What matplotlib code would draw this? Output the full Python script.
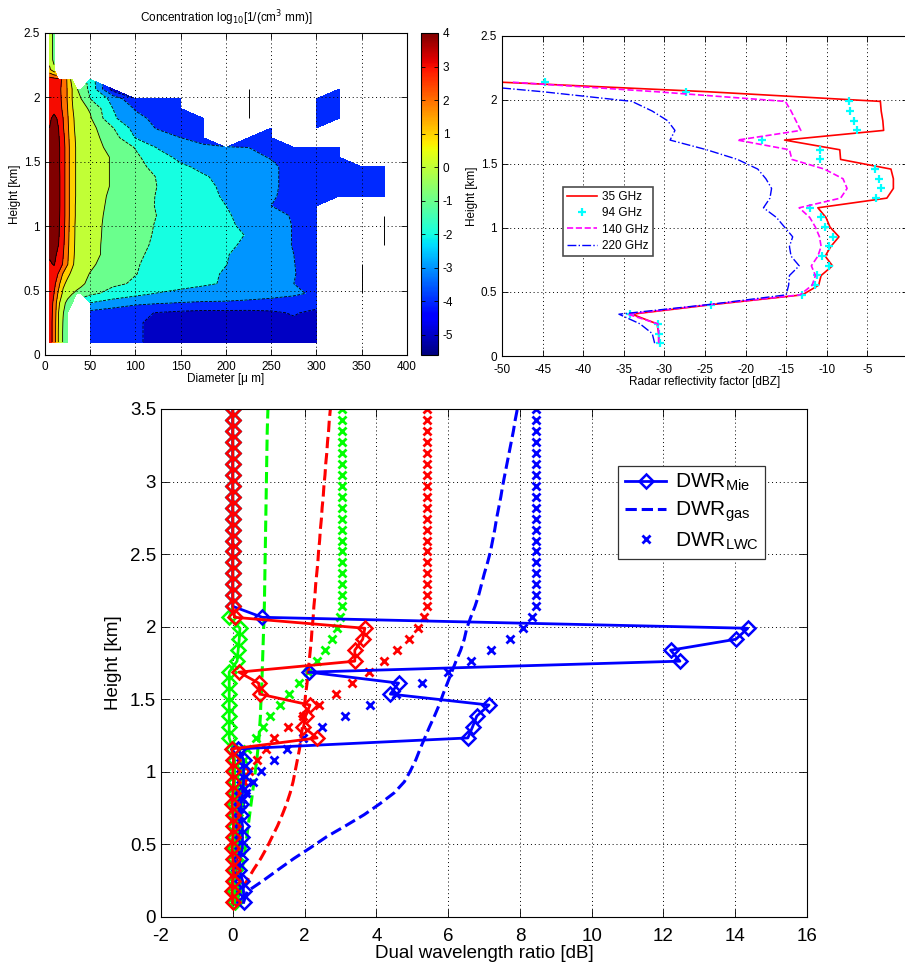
import matplotlib
matplotlib.use("Agg")
import matplotlib.pyplot as plt
import numpy as np
from matplotlib.colors import Normalize
from matplotlib.cm import ScalarMappable
from matplotlib.ticker import FormatStrFormatter

plt.rcParams["font.family"] = ["Liberation Sans", "DejaVu Sans"]
plt.rcParams["axes.unicode_minus"] = False

n = np.nan
# common height grid [km]
heights = np.linspace(0.1, 3.5, 46)

# ---- concentration log10[1/(cm^3 mm)], rows = heights[0:33], columns = diam
diam = [5, 10, 15, 20, 25, 30, 35, 40, 50, 75, 100, 125, 150, 175, 200, 225, 250, 275, 300, 325, 350, 375]
conc = [
    [3.5, 2.6, 0.9, -0.1, -0.7, n, n, n, -3.5, -3.7, -3.9, -4.2, -4.4, -4.5, -4.5, -4.5, -4.5, -4.5, -4.5, n, n, n],
    [3.5, 2.6, 0.9, -0.1, -0.7, n, n, n, -3.5, -3.7, -3.9, -4.2, -4.4, -4.5, -4.5, -4.5, -4.5, -4.5, -4.5, n, n, n],
    [3.5, 2.6, 0.95, -0.05, -0.7, n, n, n, -3.45, -3.7, -3.9, -4.2, -4.4, -4.5, -4.5, -4.5, -4.4, -4.2, -4.4, n, n, n],
    [3.5, 2.7, 1.0, 0.05, -0.6, n, n, n, -3.3, -3.5, -3.8, -4.05, -4.2, -4.3, -4.3, -4.3, -4.2, -3.9, -4.3, n, n, n],
    [3.5, 2.8, 1.2, 0.3, -0.3, -0.7, n, n, -2.05, -2.5, -2.8, -2.95, -3.05, -3.1, -3.1, -3.15, -3.2, -3.3, -3.5, n, n, n],
    [3.5, 3.0, 1.8, 0.8, 0.4, 0.05, -0.2, -0.4, -0.8, -1.3, -1.7, -2.05, -2.3, -2.5, -2.6, -2.7, -2.8, -2.9, -3.1, n, n, n],
    [3.6, 3.3, 2.3, 1.2, 0.75, 0.55, 0.4, 0.2, -0.3, -0.85, -1.1, -1.35, -1.6, -1.85, -2.1, -2.4, -2.7, -3.0, -3.3, n, n, n],
    [3.8, 3.6, 2.9, 1.9, 1.2, 0.8, 0.55, 0.35, -0.05, -0.6, -0.98, -1.25, -1.5, -1.75, -2.1, -2.45, -2.75, -2.97, -3.3, n, n, n],
    [3.9, 4.05, 3.65, 2.9, 2.05, 1.15, 0.7, 0.5, 0.2, -0.6, -0.95, -1.2, -1.45, -1.7, -1.98, -2.4, -2.75, -2.98, -3.4, n, n, n],
    [4.1, 4.2, 3.8, 3.05, 2.15, 1.2, 0.78, 0.6, 0.33, -0.4, -0.9, -1.15, -1.4, -1.65, -1.95, -2.3, -2.75, -3.0, -3.4, n, n, n],
    [4.4, 4.4, 4.0, 3.2, 2.25, 1.25, 0.8, 0.6, 0.33, -0.38, -0.85, -1.1, -1.35, -1.6, -1.85, -2.15, -2.6, -3.05, -3.4, n, n, n],
    [4.45, 4.5, 4.1, 3.3, 2.3, 1.3, 0.8, 0.6, 0.35, -0.35, -0.82, -1.07, -1.3, -1.55, -1.8, -2.05, -2.55, -3.05, -3.4, n, n, n],
    [4.5, 4.55, 4.15, 3.35, 2.35, 1.3, 0.82, 0.62, 0.38, -0.35, -0.8, -1.05, -1.3, -1.55, -1.85, -2.2, -2.55, -3.05, -3.4, n, n, n],
    [4.5, 4.6, 4.2, 3.4, 2.4, 1.35, 0.85, 0.65, 0.4, -0.3, -0.75, -1.02, -1.3, -1.6, -1.9, -2.3, -2.65, -3.1, -3.5, n, n, n],
    [4.5, 4.6, 4.25, 3.4, 2.4, 1.35, 0.85, 0.68, 0.45, -0.25, -0.75, -1.05, -1.35, -1.7, -2.0, -2.45, -3.0, -3.3, -3.5, n, n, n],
    [4.5, 4.6, 4.25, 3.4, 2.4, 1.35, 0.9, 0.72, 0.5, -0.2, -0.7, -1.05, -1.4, -1.75, -2.1, -2.5, -2.9, -3.3, -3.5, -3.7, -3.8, -3.9],
    [4.5, 4.6, 4.25, 3.4, 2.4, 1.35, 0.9, 0.75, 0.55, -0.1, -0.65, -1.02, -1.4, -1.75, -2.2, -2.55, -2.85, -3.3, -3.6, -3.7, -3.8, -3.9],
    [4.5, 4.6, 4.25, 3.4, 2.4, 1.35, 0.9, 0.75, 0.55, -0.1, -0.65, -1.05, -1.5, -1.9, -2.3, -2.55, -2.85, -3.3, -3.6, -3.7, -3.8, -3.9],
    [4.5, 4.6, 4.2, 3.4, 2.4, 1.35, 0.9, 0.75, 0.55, -0.1, -0.75, -1.25, -1.8, -2.25, -2.45, -2.6, -2.85, -3.3, -3.6, -3.8, -3.8, -3.9],
    [4.4, 4.5, 4.2, 3.4, 2.4, 1.35, 0.9, 0.75, 0.55, -0.1, -0.85, -1.5, -2.3, -2.4, -2.6, -2.8, -3.05, -3.5, -3.7, -3.8, n, n],
    [4.3, 4.5, 4.2, 3.4, 2.4, 1.35, 0.9, 0.7, 0.5, -0.35, -1.05, -2.1, -2.5, -2.8, -2.95, -3.0, -3.2, -3.6, -3.7, -3.8, n, n],
    [4.2, 4.4, 4.1, 3.3, 2.3, 1.3, 0.85, 0.65, 0.4, -0.55, -2.05, -2.5, -3.0, -3.4, n, -3.7, -3.8, n, n, n, n, n],
    [4.0, 4.3, 4.0, 3.1, 2.2, 1.2, 0.8, 0.55, 0.35, -0.95, -2.4, -3.1, -3.5, -3.8, n, n, -3.8, n, -3.7, n, n, n],
    [3.9, 4.15, 3.9, 3.0, 2.1, 1.2, 0.7, 0.45, 0.1, -1.85, -2.7, -3.3, -3.6, -3.8, n, n, n, n, -3.7, -3.6, n, n],
    [3.8, 3.8, 3.5, 2.8, 2.0, 1.1, 0.5, 0.25, -0.1, -2.0, -3.1, -3.6, -3.8, n, n, n, n, n, -3.7, -3.6, n, n],
    [3.7, 3.7, 3.4, 2.7, 1.9, 1.0, 0.4, 0.0, -1.0, -2.3, -3.95, -3.8, -3.7, n, n, n, n, n, -3.6, -3.6, n, n],
    [3.6, 3.6, 3.3, 2.7, 1.9, 1.0, 0.1, -0.5, -1.2, -4.5, n, n, n, n, n, n, n, n, n, -3.6, n, n],
    [3.5, 3.4, 3.2, 2.9, 1.8, 0.6, n, n, -1.3, n, n, n, n, n, n, n, n, n, n, n, n, n],
    [1.2, 0.3, n, n, n, n, n, n, n, n, n, n, n, n, n, n, n, n, n, n, n, n],
    [0.7, -0.3, n, n, n, n, n, n, n, n, n, n, n, n, n, n, n, n, n, n, n, n],
    [0.6, -0.3, n, n, n, n, n, n, n, n, n, n, n, n, n, n, n, n, n, n, n, n],
    [0.6, -0.3, n, n, n, n, n, n, n, n, n, n, n, n, n, n, n, n, n, n, n, n],
    [0.6, -0.3, n, n, n, n, n, n, n, n, n, n, n, n, n, n, n, n, n, n, n, n],
]
conc_levels = [-5, -4, -3, -2, -1, 0, 1, 2, 3, 4]
# single-column bins that only show up as contour line stubs
stub_diam = [225, 350, 375]
stub_h0 = [1.838, 0.478, 0.856]
stub_h1 = [2.064, 0.704, 1.082]

# ---- radar reflectivity [dBZ], heights[0:28]
z35 = [-30.7, -30.7, -30.9, -34.0, -24.0, -13.0, -11.0, -10.7, -9.3, -10.2, -9.5, -8.5, -9.6, -10.1,
       -11.1, -2.6, -1.8, -1.8, -2.1, -8.3, -8.4, -15.2, -3.0, -3.1, -3.3, -3.4, -24.7, -50.5]
z94 = [-30.6, -30.7, -30.8, -34.2, -24.2, -13.1, -11.4, -11.2, -9.7, -10.6, -9.7, -9.2, -10.2, -10.7,
       -12.1, -3.9, -3.3, -3.6, -4.1, -10.8, -10.8, -18.0, -6.3, -6.6, -7.1, -7.3, -27.3, -44.7]
z140 = [-30.7, -30.7, -30.8, -34.5, -24.3, -13.3, -11.8, -11.4, -11.9, -11.1, -10.7, -10.9, -11.4, -12.1,
        -13.4, -8.3, -7.5, -8.0, -10.3, -14.3, -14.6, -21.0, -13.2, -13.8, -14.4, -15.1, -31.0, -49.0]
z220 = [-31.2, -31.5, -33.0, -35.6, -24.5, -15.0, -14.7, -14.6, -13.4, -14.4, -14.6, -14.2, -15.2, -16.2,
        -17.8, -17.0, -16.8, -17.5, -18.5, -21.0, -24.8, -29.3, -28.7, -29.6, -31.5, -34.0, -45.0, -58.0]

# ---- dual wavelength ratio [dB], heights[0:46]
mie_green = [0.05] * 14 + [0.0, -0.1, -0.1, -0.1, -0.1, -0.1, -0.1, -0.1, 0.12, 0.15, 0.18, 0.2, -0.1] + [0.0] * 19
mie_red = [0.0, -0.02, 0.0, 0.02, 0.0, -0.02, 0.0, 0.02, 0.0, -0.02, 0.0, 0.02, 0.0, 0.02,
           -0.03, 2.35, 1.97, 2.03, 2.15, 0.75, 0.72, 0.17, 3.4, 3.4, 3.62, 3.68, 0.05] + [0.0] * 19
mie_blue = [0.3, 0.3, 0.27, 0.18, 0.2, 0.27, 0.27, 0.27, 0.22, 0.22, 0.27, 0.3, 0.3, 0.3,
            0.15, 6.55, 6.68, 6.8, 7.14, 4.39, 4.62, 2.12, 12.46, 12.2, 14.02, 14.35, 0.82] + [0.0] * 19
gas_green = [0.08, 0.12, 0.2, 0.26, 0.31, 0.35, 0.39, 0.43, 0.47, 0.51, 0.55, 0.59, 0.63, 0.67,
             0.7, 0.73, 0.75, 0.77, 0.78, 0.8, 0.81, 0.82, 0.83, 0.84, 0.85, 0.86, 0.87, 0.88,
             0.885, 0.89, 0.895, 0.9, 0.905, 0.91, 0.915, 0.92, 0.925, 0.93, 0.935, 0.94, 0.945,
             0.95, 0.955, 0.96, 0.97, 0.98]
gas_red = [0.1, 0.2, 0.4, 0.58, 0.78, 0.95, 1.1, 1.25, 1.38, 1.5, 1.6, 1.68, 1.74, 1.8,
           1.86, 1.9, 1.94, 1.98, 2.0, 2.03, 2.07, 2.1, 2.13, 2.16, 2.19, 2.21, 2.24, 2.26,
           2.29, 2.31, 2.34, 2.37, 2.39, 2.42, 2.44, 2.47, 2.49, 2.52, 2.54, 2.57, 2.59,
           2.62, 2.64, 2.67, 2.69, 2.72]
gas_blue = [0.3, 0.4, 0.85, 1.27, 1.7, 2.17, 2.62, 3.15, 3.66, 4.1, 4.5, 4.78, 4.95, 5.1,
            5.22, 5.35, 5.48, 5.62, 5.75, 5.86, 5.98, 6.1, 6.22, 6.35, 6.45, 6.52, 6.63, 6.75,
            6.85, 6.93, 7.01, 7.1, 7.18, 7.24, 7.3, 7.35, 7.41, 7.47, 7.52, 7.58, 7.64,
            7.7, 7.76, 7.82, 7.87, 7.93]
lwc_green = [0.0, 0.02, 0.04, 0.05, 0.07, 0.09, 0.11, 0.13, 0.15, 0.18, 0.21, 0.24, 0.27, 0.31,
             0.4, 0.64, 0.84, 1.05, 1.31, 1.56, 1.84, 2.1, 2.35, 2.56, 2.77, 2.91, 2.99] + [3.04] * 19
lwc_red = [0.0, 0.01, 0.02, 0.03, 0.04, 0.05, 0.06, 0.08, 0.1, 0.12, 0.15, 0.3, 0.45, 0.67,
           0.93, 1.16, 1.53, 1.95, 2.4, 2.87, 3.32, 3.79, 4.2, 4.57, 4.92, 5.16, 5.32] + [5.4] * 19
lwc_blue = [0.0, 0.01, 0.02, 0.04, 0.06, 0.08, 0.1, 0.13, 0.17, 0.25, 0.37, 0.55, 0.8, 1.15,
            1.52, 1.95, 2.49, 3.12, 3.82, 4.55, 5.27, 6.0, 6.63, 7.2, 7.73, 8.08, 8.33] + [8.45] * 19

GREEN, RED, BLUE = (0, 1, 0), (1, 0, 0), (0, 0, 1)


def matlab_axes(ax, size):
    ax.tick_params(direction="in", top=True, right=True, labelsize=size, length=4, width=0.6)
    ax.grid(True, linestyle=(0, (1, 3)), color="k", linewidth=0.7)
    for s in ax.spines.values():
        s.set_linewidth(0.8)


fig = plt.figure(figsize=(9.05, 9.64), dpi=100)

# ---------------- concentration contour
ax1 = fig.add_axes([0.0497, 0.6318, 0.400, 0.334])
norm = Normalize(vmin=-5.6, vmax=4)
jet = plt.get_cmap("jet")
z = np.ma.masked_invalid(np.array(conc))
hh = heights[: len(conc)]
fill_colors = [jet(norm(v)) for v in conc_levels]
ax1.contourf(diam, hh, z, levels=conc_levels + [10], colors=fill_colors, zorder=1)
ax1.contour(diam, hh, z, levels=conc_levels, colors="k", linewidths=0.6, zorder=1.5)
ax1.vlines(stub_diam, stub_h0, stub_h1, colors="k", linewidth=0.7)
ax1.set_xlim(0, 400)
ax1.set_ylim(0, 2.5)
ax1.set_xticks(np.arange(0, 401, 50))
ax1.set_yticks(np.arange(0, 2.51, 0.5))
ax1.yaxis.set_major_formatter(FormatStrFormatter("%g"))
matlab_axes(ax1, 8.5)
ax1.tick_params(axis="x", pad=4)
ax1.set_axisbelow(False)
ax1.set_xlabel("Diameter [\u03bc m]", fontsize=8.5, labelpad=0)
ax1.set_ylabel("Height [km]", fontsize=8.5, labelpad=2)
ax1.set_title("Concentration log$_{10}$[1/(cm$^3$ mm)]", fontsize=8.5, pad=8)

cax = fig.add_axes([0.4652, 0.6318, 0.0188, 0.334])
cb = fig.colorbar(ScalarMappable(norm=norm, cmap=jet), cax=cax, ticks=range(-5, 5))
cb.ax.tick_params(direction="in", left=True, right=True, labelsize=8.5, length=3, width=0.6)
cb.outline.set_linewidth(0.8)

# ---------------- reflectivity profiles
ax2 = fig.add_axes([0.5547, 0.6307, 0.4486, 0.332])
hz = heights[: len(z35)]
ax2.plot(z35, hz, color=RED, lw=1.2, label="35 GHz")
ax2.plot(z94, hz, "+", color=(0, 1, 1), ms=6, mew=1.6, label="94 GHz")
ax2.plot(z140, hz, "--", color=(1, 0, 1), lw=1.2, label="140 GHz")
ax2.plot(z220, hz, "-.", color=BLUE, lw=1.0, label="220 GHz")
ax2.set_xlim(-50, 0)
ax2.set_ylim(0, 2.5)
ax2.set_xticks(np.arange(-50, -4, 5))
ax2.set_yticks(np.arange(0, 2.51, 0.5))
ax2.yaxis.set_major_formatter(FormatStrFormatter("%g"))
matlab_axes(ax2, 8.5)
ax2.tick_params(axis="x", pad=6)
ax2.set_axisbelow(True)
ax2.set_xlabel("Radar reflectivity factor [dBZ]", fontsize=8.5, labelpad=0)
ax2.set_ylabel("Height [km]", fontsize=8.5, labelpad=2)
leg2 = ax2.legend(loc="upper left", bbox_to_anchor=(0.135, 0.548), fontsize=8.5, handlelength=2.5,
                  labelspacing=0.35, borderpad=0.4, handletextpad=0.4, fancybox=False, framealpha=1)
leg2.get_frame().set_edgecolor("0.3")
leg2.get_frame().set_linewidth(1.2)

# ---------------- dual wavelength ratio
ax3 = fig.add_axes([0.1779, 0.0488, 0.7138, 0.527])
series = [(GREEN, mie_green, gas_green, lwc_green),
          (BLUE, mie_blue, gas_blue, lwc_blue),
          (RED, mie_red, gas_red, lwc_red)]
mie_style = dict(ls="-", lw=2, marker="D", ms=7, mfc="none", mew=1.8)
for col, mie, gas, lwc in series:
    ax3.plot(gas, heights, "--", color=col, lw=2.2)
    ax3.plot(lwc, heights, "x", color=col, ms=6, mew=2.0)
for col, mie, gas, lwc in series:
    ax3.plot(mie, heights, color=col, **mie_style)
ax3.set_xlim(-2, 16)
ax3.set_ylim(0, 3.5)
ax3.set_xticks(np.arange(-2, 17, 2))
ax3.set_yticks(np.arange(0, 3.51, 0.5))
ax3.yaxis.set_major_formatter(FormatStrFormatter("%g"))
matlab_axes(ax3, 13.5)
ax3.tick_params(length=6)
ax3.tick_params(axis="x", pad=8)
ax3.set_axisbelow(True)
ax3.set_xlabel("Dual wavelength ratio [dB]", fontsize=13.5, labelpad=0)
ax3.set_ylabel("Height [km]", fontsize=13.5, labelpad=6)
h_mie, = ax3.plot([], [], color=BLUE, **mie_style)
h_gas, = ax3.plot([], [], "--", color=BLUE, lw=2.2)
h_lwc, = ax3.plot([], [], "x", color=BLUE, ms=6, mew=2.0)
leg3 = ax3.legend([h_mie, h_gas, h_lwc], ["DWR$_{\\mathregular{Mie}}$", "DWR$_{\\mathregular{gas}}$",
                                          "DWR$_{\\mathregular{LWC}}$"],
                  loc="upper left", bbox_to_anchor=(0.692, 0.909), fontsize=15, handlelength=2.0,
                  labelspacing=0.3, borderpad=0.3, handletextpad=0.4, fancybox=False, framealpha=1)
leg3.get_frame().set_edgecolor("0.2")
leg3.get_frame().set_linewidth(0.9)

fig.savefig("out.png", dpi=100)
